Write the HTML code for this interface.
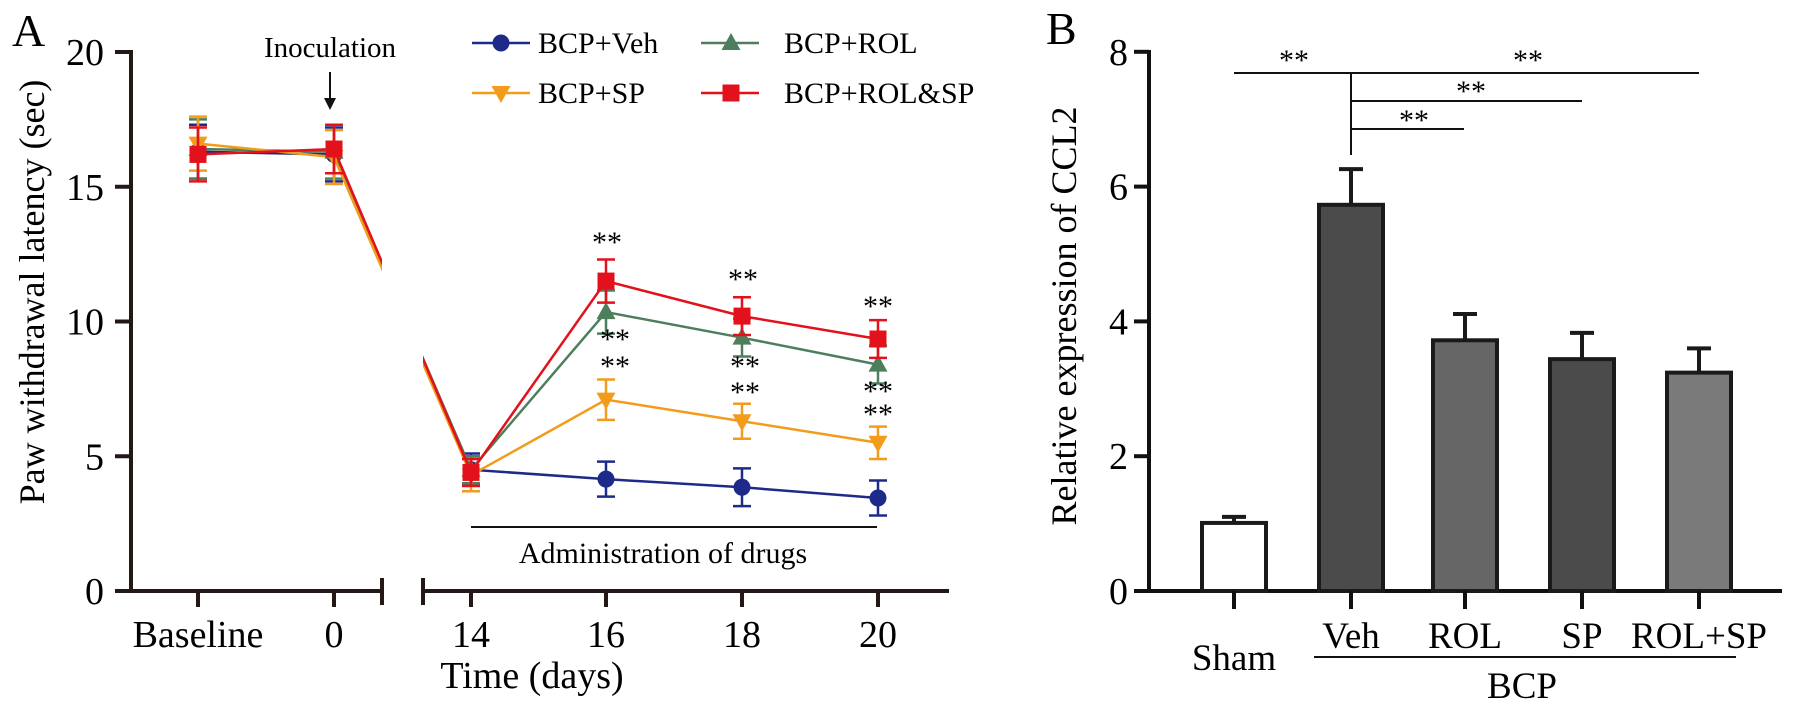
<!DOCTYPE html>
<html><head><meta charset="utf-8"><style>
html,body{margin:0;padding:0;background:#fff;}
svg{display:block;font-family:"Liberation Serif",serif;}
</style></head><body>
<svg id="fig" width="1795" height="712" viewBox="0 0 1795 712" xmlns="http://www.w3.org/2000/svg">
<g id="pa"></g>
<g id="pb"></g>
</svg>
<script>
// ---- Panel A data ----
const daysA = ["Baseline","0","14","16","18","20"];
const vehVals = [16.3,16.2,4.5,4.15,3.85,3.45];
const vehErr = [1.0,1.0,0.6,0.65,0.7,0.65];
const rolVals = [16.4,16.3,4.5,10.35,9.4,8.4];
const rolErr = [1.1,1.0,0.5,0.8,0.7,0.7];
const spVals = [16.6,16.1,4.3,7.1,6.3,5.5];
const spErr = [1.0,1.0,0.6,0.75,0.65,0.6];
const rspVals = [16.2,16.4,4.4,11.5,10.2,9.35];
const rspErr = [1.0,0.9,0.5,0.8,0.7,0.7];
const yTicksA = [0,5,10,15,20];
// ---- Panel B data ----
const groupsB = ["Sham","Veh","ROL","SP","ROL+SP"];
const ccl2Vals = [1.01,5.73,3.72,3.44,3.24];
const ccl2Err = [0.09,0.53,0.39,0.39,0.36];
const yTicksB = [0,2,4,6,8];

const NS="http://www.w3.org/2000/svg";
function mk(parent,tag,attrs,text){const e=document.createElementNS(NS,tag);for(const k in attrs)e.setAttribute(k,attrs[k]);if(text!==undefined)e.textContent=text;parent.appendChild(e);return e;}

// ===== Panel A =====
const pa=document.getElementById('pa');
const xPosA=[198,334,471,606,742,878];
const xA=i=>xPosA[i];
const yA=v=>591-v*26.95;
const defs=mk(document.getElementById('fig'),'defs',{});
const cp=mk(defs,'clipPath',{id:'gapclip'});
mk(cp,'rect',{x:0,y:0,width:382,height:712});
mk(cp,'rect',{x:423,y:0,width:600,height:712});

let t;
t=mk(pa,'text',{x:12,y:46,'font-size':46},'A');

let ax=mk(pa,'line',{x1:131,y1:50,x2:131,y2:593,stroke:'#231815','stroke-width':4});

yTicksA.forEach(v=>{
  let l=mk(pa,'line',{x1:115,y1:yA(v),x2:131,y2:yA(v),stroke:'#231815','stroke-width':4});
  
  let tx=mk(pa,'text',{x:104,y:yA(v)+13,'font-size':38,'text-anchor':'end'},String(v));
  
});
let xs1=mk(pa,'line',{x1:129,y1:591,x2:382,y2:591,stroke:'#231815','stroke-width':4});

let xs2=mk(pa,'line',{x1:423,y1:591,x2:949,y2:591,stroke:'#231815','stroke-width':4});

[382,423].forEach(x=>{let l=mk(pa,'line',{x1:x,y1:578,x2:x,y2:605,stroke:'#231815','stroke-width':4});
  });
daysA.forEach((d,i)=>{
  let l=mk(pa,'line',{x1:xA(i),y1:591,x2:xA(i),y2:607,stroke:'#231815','stroke-width':4});
  
  let tx=mk(pa,'text',{x:xA(i),y:647,'font-size':38,'text-anchor':'middle'},d);
  
});
t=mk(pa,'text',{x:532,y:688,'font-size':38,'text-anchor':'middle'},'Time (days)');

t=mk(pa,'text',{x:0,y:0,'font-size':36,'text-anchor':'middle',transform:'translate(44,292) rotate(-90)'},'Paw withdrawal latency (sec)');

t=mk(pa,'text',{x:330,y:57,'font-size':29,'text-anchor':'middle'},'Inoculation');

let ar=mk(pa,'line',{x1:330,y1:72,x2:330,y2:100,stroke:'#111','stroke-width':2});

mk(pa,'path',{d:'M324,98 L330,110 L336,98 Z',fill:'#111'});
let adl=mk(pa,'line',{x1:471,y1:527,x2:877,y2:527,stroke:'#111','stroke-width':2});

t=mk(pa,'text',{x:663,y:563,'font-size':30,'text-anchor':'middle'},'Administration of drugs');


const series=[
 {name:'BCP+Veh',vals:vehVals,err:vehErr,col:'#1e2a8a',mk:'circle'},
 {name:'BCP+SP',vals:spVals,err:spErr,col:'#f39c1b',mk:'tdown'},
 {name:'BCP+ROL',vals:rolVals,err:rolErr,col:'#4d7f5c',mk:'tup'},
 {name:'BCP+ROL&SP',vals:rspVals,err:rspErr,col:'#e3111b',mk:'square'}
];
function marker(g,type,x,y,col){
  let e;
  if(type==='circle')e=mk(g,'circle',{cx:x,cy:y,r:8.5,fill:col});
  else if(type==='square')e=mk(g,'rect',{x:x-8.5,y:y-8.5,width:17,height:17,fill:col});
  else if(type==='tup')e=mk(g,'path',{d:`M${x},${y-10} L${x+9.5},${y+7} L${x-9.5},${y+7} Z`,fill:col});
  else e=mk(g,'path',{d:`M${x},${y+10} L${x+9.5},${y-7} L${x-9.5},${y-7} Z`,fill:col});
  return e;
}
[0,2,1,3].forEach(si=>{
  const s=series[si];
  const g=mk(pa,'g',{});
  
  
  const pts=s.vals.map((v,i)=>`${xA(i)},${yA(v)}`).join(' ');
  let pl=mk(g,'polyline',{points:pts,fill:'none',stroke:s.col,'stroke-width':2.5,'clip-path':'url(#gapclip)'});
  
  s.vals.forEach((v,i)=>{
    const x=xA(i),y1=yA(v+s.err[i]),y2=yA(v-s.err[i]);
    let eb=mk(g,'path',{d:`M${x},${y2} L${x},${y1} M${x-9},${y1} L${x+9},${y1} M${x-9},${y2} L${x+9},${y2}`,stroke:s.col,'stroke-width':2.5,fill:'none'});
    
    let m=marker(g,s.mk,x,yA(v),s.col);
    
  });
});
const starsA=[[607,252],[743,289],[878,316],[615,349],[615,376],[745,376],[745,402],[878,401],[878,424]];
starsA.forEach(p=>{let s=mk(pa,'text',{x:p[0],y:p[1],'font-size':30,'text-anchor':'middle'},'**');
  });
const leg=[[472,43,0],[472,93,1],[701,43,2],[701,93,3]];
leg.forEach(l=>{
  const s=series[l[2]];
  const g=mk(pa,'g',{});
  
  mk(g,'line',{x1:l[0],y1:l[1],x2:l[0]+58,y2:l[1],stroke:s.col,'stroke-width':2.5});
  marker(g,s.mk,l[0]+(l[2]>=2?30:29),l[1],s.col);
  mk(g,'text',{x:l[0]+(l[2]>=2?83:66),y:l[1]+10,'font-size':30},s.name);
});

// ===== Panel B =====
const pb=document.getElementById('pb');
const xPosB=[1234,1351,1465,1582,1699];
const yB=v=>591-v*67.4;
t=mk(pb,'text',{x:1046,y:44,'font-size':46},'B');

ax=mk(pb,'line',{x1:1149,y1:50,x2:1149,y2:593,stroke:'#111','stroke-width':4});

yTicksB.forEach(v=>{
  let l=mk(pb,'line',{x1:1134,y1:yB(v),x2:1149,y2:yB(v),stroke:'#111','stroke-width':4});
  
  let tx=mk(pb,'text',{x:1128,y:yB(v)+13,'font-size':38,'text-anchor':'end'},String(v));
  
});
ax=mk(pb,'line',{x1:1147,y1:591,x2:1782,y2:591,stroke:'#111','stroke-width':4});

t=mk(pb,'text',{x:0,y:0,'font-size':36,'text-anchor':'middle',transform:'translate(1076,316) rotate(-90)'},'Relative expression of CCL2');

const fills=['#ffffff','#4b4b4b','#666666','#4b4b4b','#7a7a7a'];
groupsB.forEach((gname,i)=>{
  const x=xPosB[i],v=ccl2Vals[i],top=yB(v+ccl2Err[i]);
  let eb=mk(pb,'path',{d:`M${x},${yB(v)} L${x},${top} M${x-12},${top} L${x+12},${top}`,stroke:'#1a1a1a','stroke-width':4,fill:'none'});
  
  let r=mk(pb,'rect',{x:x-32,y:yB(v),width:64,height:591-yB(v),fill:fills[i],stroke:'#1a1a1a','stroke-width':4});
  
  let l=mk(pb,'line',{x1:x,y1:591,x2:x,y2:609,stroke:'#111','stroke-width':4});
  
  let tx=mk(pb,'text',{x:x,y:i===0?670:648,'font-size':37,'text-anchor':'middle'},gname);
  
});
let bl=mk(pb,'line',{x1:1314,y1:657,x2:1736,y2:657,stroke:'#111','stroke-width':2});

t=mk(pb,'text',{x:1522,y:698,'font-size':37,'text-anchor':'middle'},'BCP');

const sig=mk(pb,'g',{stroke:'#111','stroke-width':2});

mk(sig,'line',{x1:1234,y1:73,x2:1699,y2:73});
mk(sig,'line',{x1:1351,y1:73,x2:1351,y2:155});
mk(sig,'line',{x1:1351,y1:101,x2:1582,y2:101});
mk(sig,'line',{x1:1351,y1:129,x2:1464,y2:129});
[[1294,70],[1528,70],[1471,101],[1414,130]].forEach(p=>{
  let s=mk(pb,'text',{x:p[0],y:p[1],'font-size':30,'text-anchor':'middle'},'**');
  
});
</script>
</body></html>
